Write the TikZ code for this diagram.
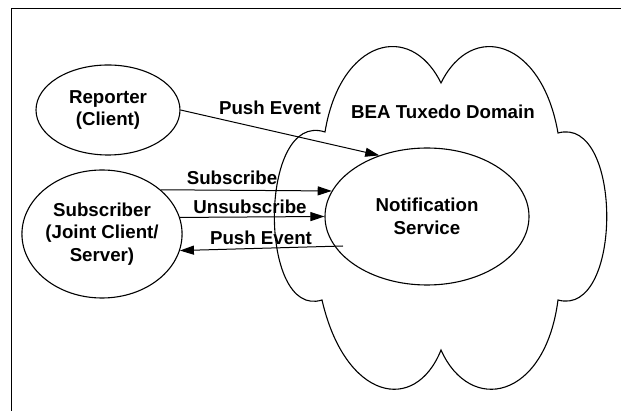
\documentclass[tikz,border=0pt]{standalone}
\usepackage{fontspec}
\setmainfont{Liberation Sans}
\usetikzlibrary{shapes.geometric,arrows.meta}

\begin{document}
\begin{tikzpicture}[x=1pt,y=-1pt,line width=1pt,
  font=\fontsize{18.7}{22.5}\selectfont\bfseries,
  party/.style={ellipse,draw,line width=1.1pt,align=center,inner sep=0pt},
  lbl/.style={anchor=base,inner sep=0pt},
  arr/.style={-{Triangle[length=14pt,width=9pt]}}]
       \useasboundingbox (0,0) rectangle (621,411);
       \draw[line width=0.9pt] (11,411) -- (11,8) -- (621,8) ;
       \draw[line width=1.1pt] (325,132) .. controls (340,40) and (410,20) .. (441,83)
          .. controls (472,20) and (542,40) .. (558,133)
          .. controls (623,115) and (623,318) .. (558,300)
          .. controls (545,400) and (470,415) .. (441,350)
          .. controls (415,415) and (345,400) .. (322,300)
          .. controls (258,320) and (258,110) .. (325,132) -- cycle ;
       \node[lbl] (domain) at (443,119) {BEA Tuxedo Domain};
       \node[party,minimum width=144pt,minimum height=90pt] (reporter) at (108,110) {Reporter\\(Client)};
       \node[party,minimum width=148pt,minimum height=128pt] (subscriber) at (102,234) {Subscriber\\(Joint Client/\\Server)};
       \node[party,minimum width=204pt,minimum height=137pt] (notify) at (427,216.5) {Notification\\Service};
       \coordinate (pushfrom) at (343,246) ;
       \draw[arr] (reporter.east) -- (notify.128) ;
       \draw[arr] (subscriber.37) -- (notify.165.5) ;
       \draw[arr] (subscriber.12) -- (notify.west) ;
       \draw[arr] (pushfrom) -- (subscriber.-12) ;
       \node[lbl] (pushlbl) at (270,115) {Push Event};
       \node[lbl] (sublbl) at (232,185) {Subscribe};
       \node[lbl] (unsublbl) at (250,214) {Unsubscribe};
       \node[lbl] (backlbl) at (261,245) {Push Event};
\end{tikzpicture}
\end{document}
